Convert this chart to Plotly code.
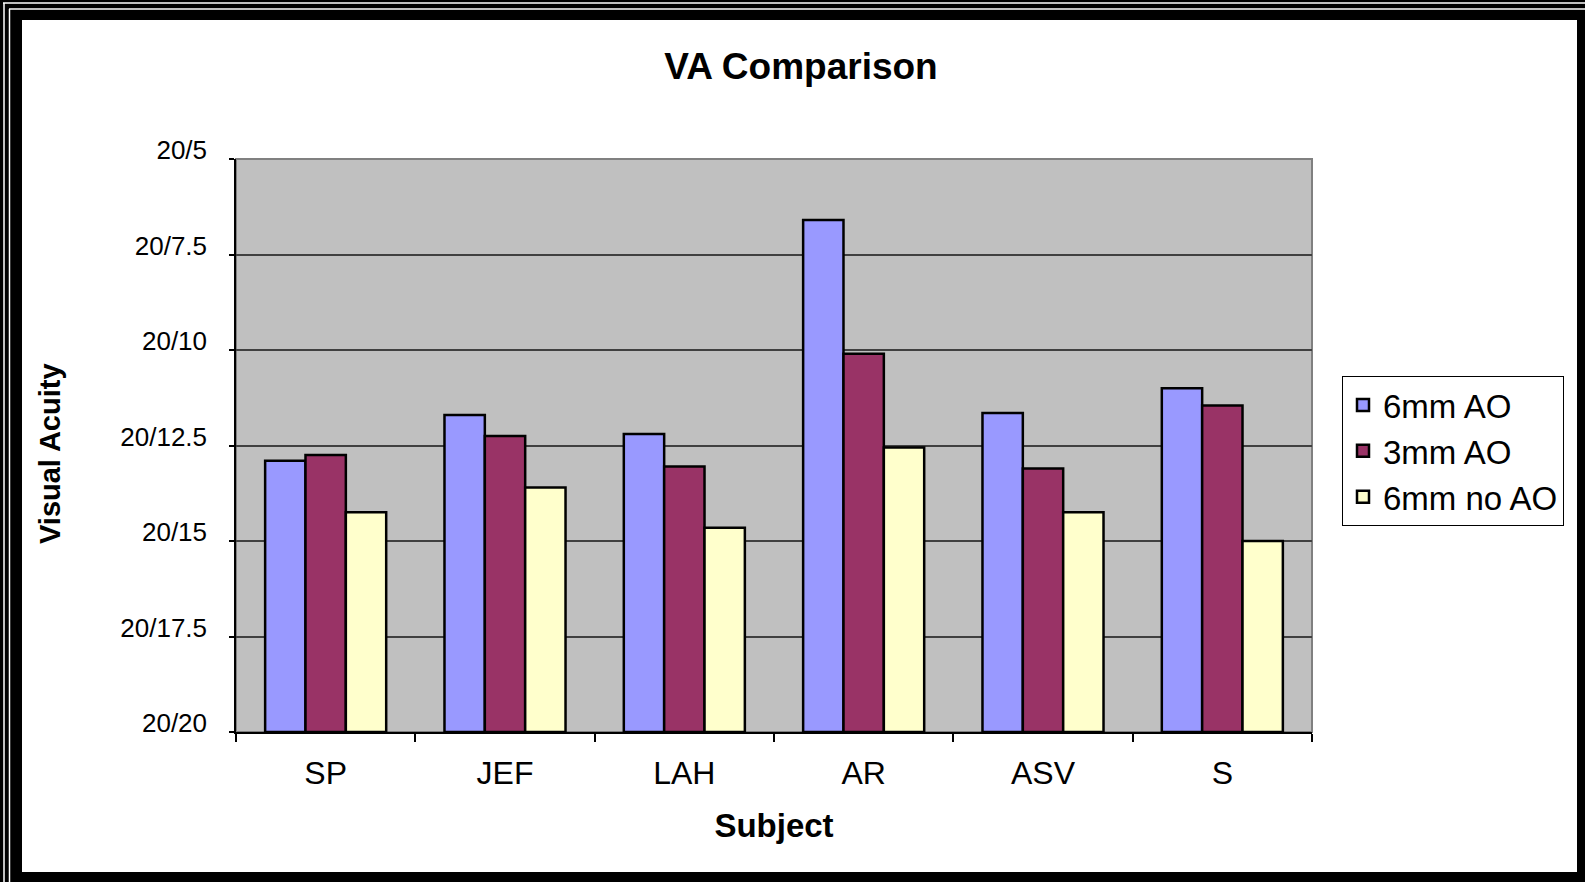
import plotly.graph_objects as go

subjects = ["SP", "JEF", "LAH", "AR", "ASV", "S"]
# Snellen denominators (20/x)
ao_6mm = [12.9, 11.7, 12.2, 6.6, 11.65, 11.0]
ao_3mm = [12.75, 12.25, 13.05, 10.1, 13.1, 11.45]
no_ao_6mm = [14.25, 13.6, 14.65, 12.55, 14.25, 15.0]
series_names = ["6mm AO", "3mm AO", "6mm no AO"]
series_colors = ["#9999FF", "#993366", "#FFFFCC"]
ytick_vals = [5, 7.5, 10, 12.5, 15, 17.5, 20]
ytick_text = ["20/5", "20/7.5", "20/10", "20/12.5", "20/15", "20/17.5", "20/20"]
BASE = 20

W, H = 1585, 882
L, R, T, B = 236, 1312, 159, 732
FONT = "Liberation Sans, Arial, sans-serif"

def px(x):
    return (x - L) / (R - L)

def py(y):
    return (B - y) / (B - T)

fig = go.Figure()
for i, (name, vals, col) in enumerate(zip(series_names, [ao_6mm, ao_3mm, no_ao_6mm], series_colors)):
    fig.add_trace(go.Bar(
        x=subjects,
        y=[v - BASE for v in vals],
        base=BASE,
        name=name,
        legendgroup=name,
        marker=dict(color=col, line=dict(color="black", width=2.5)),
        customdata=vals,
        hovertemplate="%{x}: 20/%{customdata}<extra>" + name + "</extra>",
    ))

shapes = [
    # white slide area
    dict(type="rect", xref="paper", yref="paper", x0=px(22), x1=px(1577), y0=py(872), y1=py(20),
         fillcolor="white", line=dict(width=0), layer="below"),
    # thin white frame lines
    dict(type="line", xref="paper", yref="paper", x0=px(3), x1=px(1585), y0=py(3), y1=py(3),
         line=dict(color="white", width=1.5), layer="below"),
    dict(type="line", xref="paper", yref="paper", x0=px(9), x1=px(1585), y0=py(9), y1=py(9),
         line=dict(color="white", width=1.5), layer="below"),
    dict(type="line", xref="paper", yref="paper", x0=px(4), x1=px(4), y0=py(882), y1=py(3),
         line=dict(color="white", width=1.5), layer="below"),
    dict(type="line", xref="paper", yref="paper", x0=px(9.5), x1=px(9.5), y0=py(882), y1=py(9),
         line=dict(color="white", width=1.5), layer="below"),
    # plot area
    dict(type="rect", xref="paper", yref="paper", x0=0, x1=1, y0=0, y1=1,
         fillcolor="#C0C0C0", line=dict(color="#808080", width=2), layer="below"),
]

fig.update_layout(
    width=W, height=H,
    margin=dict(l=L, r=W - R, t=T, b=H - B, pad=0),
    paper_bgcolor="black",
    plot_bgcolor="rgba(0,0,0,0)",
    font=dict(family=FONT, color="black"),
    barmode="group",
    bargap=0.325,
    bargroupgap=0,
    shapes=shapes,
    title=dict(text="<b>VA Comparison</b>", x=px(801), xref="paper", xanchor="center",
               y=1 - 66 / H, yanchor="middle", yref="container",
               font=dict(size=37, family=FONT, color="black")),
    legend=dict(x=px(1342), y=py(376), xanchor="left", yanchor="top",
                bgcolor="white", bordercolor="black", borderwidth=1,
                font=dict(size=33, family=FONT, color="black"),
                traceorder="grouped", tracegroupgap=0, itemwidth=30),
    annotations=[
        dict(text="<b>Visual Acuity</b>", xref="paper", yref="paper",
             x=px(50), y=py(454), xanchor="center", yanchor="middle",
             textangle=-90, showarrow=False,
             font=dict(size=29, family=FONT, color="black")),
    ],
    showlegend=True,
    hovermode="closest",
)

fig.update_xaxes(
    type="category",
    showline=True, linecolor="black", linewidth=1.5,
    ticks="outside", tickson="boundaries", ticklen=8, tickcolor="black", tickwidth=1.5,
    tickfont=dict(size=32, family=FONT, color="black"),
    ticklabelstandoff=12,
    showgrid=False,
    title=dict(text="<b>Subject</b>", font=dict(size=33, family=FONT, color="black"), standoff=24),
)

fig.update_yaxes(
    range=[20, 5],
    tickmode="array", tickvals=ytick_vals, ticktext=ytick_text,
    showline=True, linecolor="black", linewidth=1.5,
    ticks="outside", ticklen=5, tickcolor="black", tickwidth=1.5,
    tickfont=dict(size=26, family=FONT, color="black"),
    ticklabelstandoff=17, ticklabelshift=9,
    showgrid=True, gridcolor="#404040", gridwidth=1.5,
    zeroline=False,
)

fig.write_html(
    "out.html",
    config={"displayModeBar": False},
    post_script="document.body.style.margin='0';document.body.style.background='black';",
)
